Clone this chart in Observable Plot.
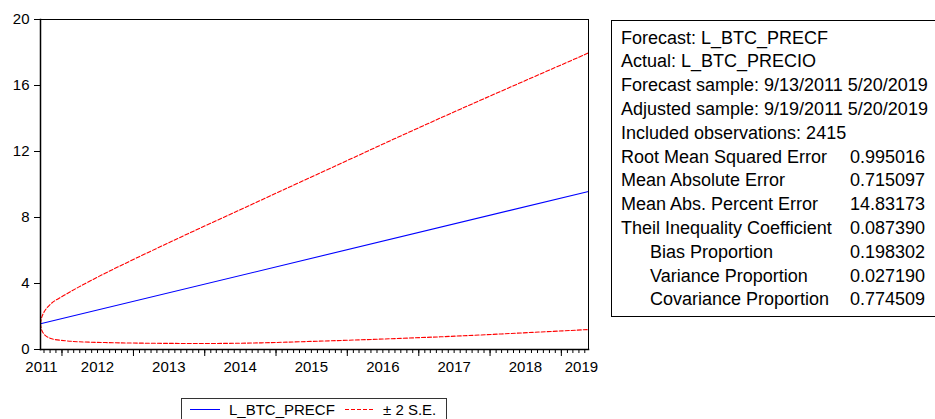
<!DOCTYPE html>
<html>
<head>
<meta charset="utf-8">
<script src="https://cdn.jsdelivr.net/npm/d3@7"></script>
<script src="https://cdn.jsdelivr.net/npm/@observablehq/plot@0.6"></script>
<style>
  html, body { margin: 0; padding: 0; background: #fff; }
</style>
</head>
<body>
<div id="chart"></div>
<script>
// ---- data ----
const forecastDates = ["2011-09-13", "2019-05-20"];
const forecastValues = [1.56, 9.58];

const bandDates = ["2011-09-13", "2011-09-20", "2011-10-07", "2011-11-10", "2012-01-17", "2012-03-26",
                   "2012-08-09", "2013-07-11", "2014-06-28", "2015-05-06", "2017-04-22", "2019-05-20"];
const upperValues = [1.56, 1.98, 2.38, 2.82, 3.32, 3.78, 4.62, 6.53, 8.45, 10.15, 14.03, 17.97];
const lowerValues = [1.56, 1.15, 0.86, 0.65, 0.53, 0.47, 0.42, 0.37, 0.38, 0.47, 0.77, 1.21];

const yTicks = [0, 4, 8, 12, 16, 20];
const yearLabels = ["2011", "2012", "2013", "2014", "2015", "2016", "2017", "2018", "2019"];
const yearLabelDates = ["2011-09-18", "2012-07-01", "2013-07-01", "2014-07-01", "2015-07-01",
                        "2016-07-01", "2017-07-01", "2018-07-01", "2019-04-14"];
const yearTickDates = ["2012-01-01", "2013-01-01", "2014-01-01", "2015-01-01", "2016-01-01",
                       "2017-01-01", "2018-01-01", "2019-01-01"];

const seriesNames = ["L_BTC_PRECF", "± 2 S.E."];

const statLabels = ["Forecast: L_BTC_PRECF", "Actual: L_BTC_PRECIO",
  "Forecast sample: 9/13/2011 5/20/2019", "Adjusted sample: 9/19/2011 5/20/2019",
  "Included observations: 2415", "Root Mean Squared Error", "Mean Absolute Error",
  "Mean Abs. Percent Error", "Theil Inequality Coefficient", "Bias Proportion",
  "Variance Proportion", "Covariance Proportion"];
const statValues = ["", "", "", "", "", "0.995016", "0.715097", "14.83173", "0.087390",
  "0.198302", "0.027190", "0.774509"];
const statIndent = [false, false, false, false, false, false, false, false, false, true, true, true];

// ---- build tables ----
const parse = d3.utcParse("%Y-%m-%d");
const fc = forecastDates.map((d, i) => ({date: parse(d), value: forecastValues[i]}));
const band = bandDates.map((d, i) => ({date: parse(d), upper: upperValues[i], lower: lowerValues[i]}));
const start = parse(forecastDates[0]), end = parse(forecastDates[1]);
const monthTicks = d3.utcMonth.range(d3.utcMonth.ceil(start), d3.utcDay.offset(end, 1));
const yearTicks = yearTickDates.map(parse);
const labelTicks = yearLabelDates.map(parse);

const FONT = "'Liberation Sans', Arial, Helvetica, sans-serif";

const plot = Plot.plot({
  width: 935,
  height: 419,
  marginLeft: 40,
  marginRight: 347,
  marginTop: 19,
  marginBottom: 70,
  style: {fontFamily: FONT, fontSize: "15px", color: "black", background: "white"},
  x: {type: "utc", domain: [start, end]},
  y: {domain: [0, 20]},
  marks: [
    Plot.axisY({ticks: yTicks, tickSize: 6, tickPadding: 5, fontSize: 15, label: null, tickFormat: d => String(d)}),
    Plot.axisX({ticks: monthTicks, tickSize: 4, tickFormat: () => "", label: null}),
    Plot.axisX({ticks: yearTicks, tickSize: 7, tickFormat: () => "", label: null}),
    Plot.axisX({ticks: labelTicks, tickSize: 0, tickPadding: 12, fontSize: 15, label: null,
                tickFormat: d => yearLabels[labelTicks.findIndex(t => +t === +d)]}),
    Plot.line(band, {x: "date", y: "upper", stroke: "#ff0000", strokeWidth: 1.1, strokeDasharray: "4,2", curve: "catmull-rom"}),
    Plot.line(band, {x: "date", y: "lower", stroke: "#ff0000", strokeWidth: 1.1, strokeDasharray: "4,2", curve: "catmull-rom"}),
    Plot.line(fc, {x: "date", y: "value", stroke: "#0000ff", strokeWidth: 1.1}),
    Plot.frame({stroke: "black", strokeWidth: 1}),
    Plot.frame({stroke: "black", strokeWidth: 1.5, anchor: "left"}),
    Plot.frame({stroke: "black", strokeWidth: 1.5, anchor: "bottom"})
  ]
});

const svg = d3.select(plot);

// legend below the chart
const lg = svg.append("g").attr("font-family", FONT).attr("font-size", 15)
  .attr("fill", "black").attr("text-anchor", "start");
lg.append("rect").attr("x", 181.5).attr("y", 398.5).attr("width", 265).attr("height", 30)
  .attr("fill", "white").attr("stroke", "#333").attr("stroke-width", 1);
lg.append("line").attr("x1", 190).attr("x2", 220).attr("y1", 409.5).attr("y2", 409.5)
  .attr("stroke", "#0000ff").attr("stroke-width", 1);
lg.append("text").attr("x", 229).attr("y", 415).text(seriesNames[0]);
lg.append("line").attr("x1", 345).attr("x2", 375).attr("y1", 409.5).attr("y2", 409.5)
  .attr("stroke", "#ff0000").attr("stroke-width", 1).attr("stroke-dasharray", "4,2");
lg.append("text").attr("x", 383).attr("y", 415).text(seriesNames[1]);

// statistics box
const sb = svg.append("g").attr("font-family", FONT).attr("font-size", 18)
  .attr("fill", "black").attr("text-anchor", "start");
sb.append("rect").attr("x", 611.5).attr("y", 20.5).attr("width", 340).attr("height", 296)
  .attr("fill", "white").attr("stroke", "black").attr("stroke-width", 1);
statLabels.forEach((s, i) => {
  const y = 43.5 + 23.8 * i;
  sb.append("text").attr("x", statIndent[i] ? 650 : 621).attr("y", y).text(s);
  if (statValues[i]) sb.append("text").attr("x", 850).attr("y", y).text(statValues[i]);
});

document.getElementById("chart").appendChild(plot);
</script>
</body>
</html>
